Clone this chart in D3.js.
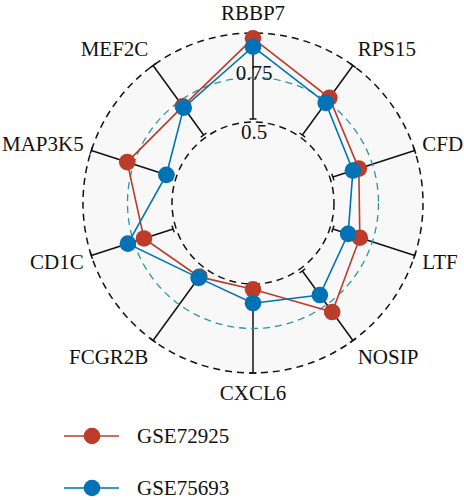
<!DOCTYPE html>
<html>
<head>
<meta charset="utf-8">
<script src="https://cdn.jsdelivr.net/npm/d3@7"></script>
<style>
  body { margin: 0; background: #fff; }
  text { font-family: "Liberation Serif", "DejaVu Serif", serif; fill: #111; }
</style>
</head>
<body>
<svg id="chart"></svg>
<script>
// genes around the radar, clockwise from the top
var genes = ["RBBP7", "RPS15", "CFD", "LTF", "NOSIP", "CXCL6", "FCGR2B", "CD1C", "MAP3K5", "MEF2C"]
var gse72925 = [0.970, 0.775, 0.670, 0.676, 0.802, 0.530, 0.558, 0.689, 0.788, 0.716]
var gse75693 = [0.923, 0.740, 0.635, 0.607, 0.684, 0.608, 0.565, 0.784, 0.557, 0.707]
var seriesNames = ["GSE72925", "GSE75693"]
var tickValues = [0.5, 0.75]
var tickLabels = ["0.5", "0.75"]

function main(){
    var width = 464
    var height = 500
    var cx = 253, cy = 203
    var svg = d3.select('#chart').attr("width", width).attr("height", height)

    var colors = ["#BC3C29", "#0072B5"]
    var series = [gse72925, gse75693]

    var rScale = d3.scaleLinear().domain([0.5, 1]).range([81, 170])
    // text sits on a slightly wider ring than the grid
    var rText = d3.scaleLinear().domain([0.5, 1]).range([71, 190])
    var angle = d3.scalePoint().domain(genes)
        .range([0, 2 * Math.PI * (genes.length - 1) / genes.length])

    function px(g, r){ return cx + r * Math.sin(angle(g)) }
    function py(g, r){ return cy - r * Math.cos(angle(g)) }

    var g = svg.append("g")

    // grey disc
    g.append("circle").attr("cx", cx).attr("cy", cy).attr("r", rScale(1))
        .attr("fill", "#f8f8f8")

    // axes with end caps
    var capLen = 3.5
    genes.forEach(function(d){
        var a = angle(d)
        var r1 = rScale(0.5) + 3, r2 = rScale(1)
        g.append("line")
            .attr("x1", px(d, r1)).attr("y1", py(d, r1))
            .attr("x2", px(d, r2)).attr("y2", py(d, r2))
            .attr("stroke", "#111").attr("stroke-width", 1.5)
        ;[r1, r2].forEach(function(r){
            var tx = Math.cos(a) * capLen, ty = Math.sin(a) * capLen
            g.append("line")
                .attr("x1", px(d, r) - tx).attr("y1", py(d, r) - ty)
                .attr("x2", px(d, r) + tx).attr("y2", py(d, r) + ty)
                .attr("stroke", "#111").attr("stroke-width", 1.5)
        })
    })

    // grid circles
    g.append("circle").attr("cx", cx).attr("cy", cy).attr("r", rScale(0.5))
        .attr("fill", "none").attr("stroke", "#111").attr("stroke-width", 1.5)
        .attr("stroke-dasharray", "7,5")
    g.append("circle").attr("cx", cx).attr("cy", cy).attr("r", rScale(0.75))
        .attr("fill", "none").attr("stroke", "#2a96a0").attr("stroke-width", 1.3)
        .attr("stroke-dasharray", "7,5")
    g.append("circle").attr("cx", cx).attr("cy", cy).attr("r", rScale(1))
        .attr("fill", "none").attr("stroke", "#111").attr("stroke-width", 1.5)
        .attr("stroke-dasharray", "7,5")

    // radial tick labels
    g.selectAll(".tick-label")
        .data(tickValues)
        .join("text")
        .attr("class", "tick-label")
        .attr("x", cx + 1)
        .attr("y", d => cy - rText(d))
        .attr("text-anchor", "middle")
        .attr("dominant-baseline", "central")
        .style("font-size", "21px")
        .text((d, i) => tickLabels[i])

    // gene labels
    g.selectAll(".gene-label")
        .data(genes)
        .join("text")
        .attr("class", "gene-label")
        .attr("x", d => px(d, rScale(1) + 8))
        .attr("y", d => cy - rText(1) * Math.cos(angle(d)))
        .attr("text-anchor", function(d){
            var s = Math.sin(angle(d))
            if (Math.abs(s) < 0.1) return "middle"
            return s > 0 ? "start" : "end"
        })
        .attr("dominant-baseline", "central")
        .style("font-size", "21px")
        .text(d => d)

    // series
    var line = d3.lineRadial()
        .angle((d, i) => angle(genes[i]))
        .radius(d => rScale(d))
        .curve(d3.curveLinearClosed)

    series.forEach(function(vals, k){
        var sg = g.append("g").attr("transform", "translate(" + cx + "," + cy + ")")
        sg.append("path")
            .datum(vals)
            .attr("d", line)
            .attr("fill", "none")
            .attr("stroke", colors[k])
            .attr("stroke-width", 1.6)
        sg.selectAll("circle")
            .data(vals)
            .join("circle")
            .attr("cx", (d, i) => rScale(d) * Math.sin(angle(genes[i])))
            .attr("cy", (d, i) => -rScale(d) * Math.cos(angle(genes[i])))
            .attr("r", 8.3)
            .attr("fill", colors[k])
    })

    // legend
    var legend = svg.append("g")
    seriesNames.forEach(function(name, k){
        var ly = 436 + k * 52
        legend.append("line").attr("x1", 64).attr("x2", 119).attr("y1", ly).attr("y2", ly)
            .attr("stroke", colors[k]).attr("stroke-width", 1.6)
        legend.append("circle").attr("cx", 92).attr("cy", ly).attr("r", 8.3)
            .attr("fill", colors[k])
        legend.append("text").attr("x", 137).attr("y", ly)
            .attr("dominant-baseline", "central")
            .style("font-size", "21px")
            .text(name)
    })
}
main()
</script>
</body>
</html>
